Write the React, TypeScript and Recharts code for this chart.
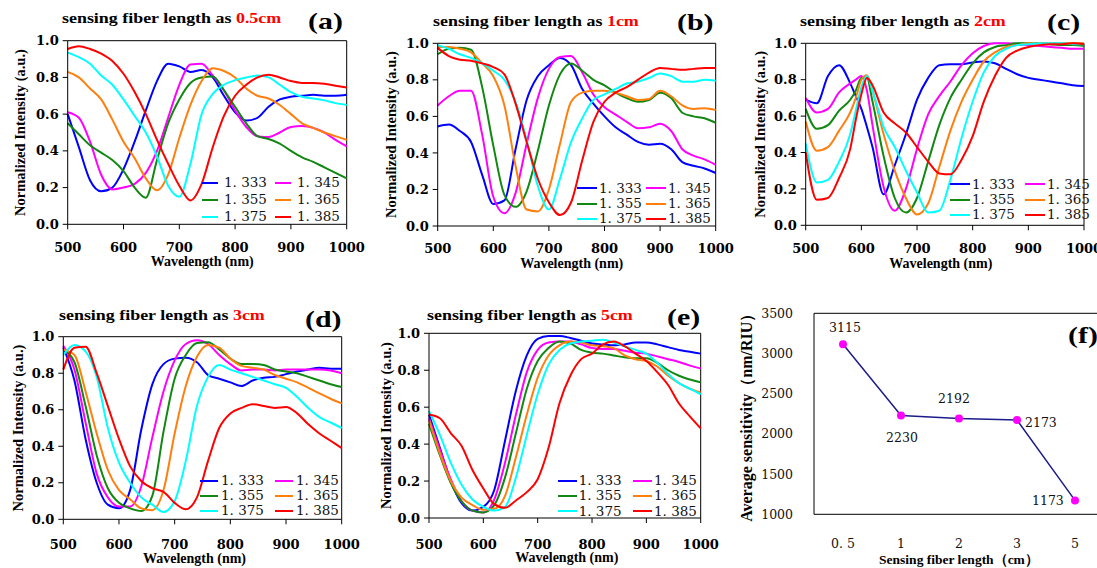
import { LineChart, Line, XAxis, YAxis, ReferenceLine, Legend, LabelList } from "recharts";

// wavelength grid (nm) shared by panels a, b, d, e
const WL = [500, 520, 540, 560, 580, 600, 620, 640, 660, 680, 700, 720, 740, 760, 780, 800, 820, 840, 860, 880, 900, 920, 940, 960, 980, 1000];
// panel c needs a finer step around the 600 nm peaks
const WL_C = [500, 520, 540, 560, 580, 590, 600, 610, 620, 640, 660, 680, 700, 720, 740, 760, 780, 800, 820, 840, 860, 880, 900, 920, 940, 960, 980, 1000];
const WL_TICKS = [500, 600, 700, 800, 900, 1000];
const INT_TICKS = [0, 0.2, 0.4, 0.6, 0.8, 1.0];
const RI_LABELS = ["1. 333", "1. 345", "1. 355", "1. 365", "1. 375", "1. 385"];
const COLORS = ["#0000ff", "#ff00ff", "#118811", "#ff7f0e", "#00ffff", "#ff0000"];

// (a) 0.5 cm
const A333 = [0.60, 0.42, 0.24, 0.18, 0.20, 0.30, 0.45, 0.62, 0.78, 0.875, 0.86, 0.83, 0.84, 0.80, 0.70, 0.61, 0.565, 0.58, 0.64, 0.68, 0.695, 0.70, 0.705, 0.70, 0.70, 0.705];
const A345 = [0.61, 0.58, 0.45, 0.27, 0.19, 0.20, 0.22, 0.28, 0.40, 0.58, 0.76, 0.87, 0.875, 0.81, 0.73, 0.62, 0.53, 0.48, 0.475, 0.50, 0.53, 0.535, 0.525, 0.50, 0.46, 0.425];
const A355 = [0.55, 0.49, 0.43, 0.39, 0.35, 0.29, 0.20, 0.145, 0.35, 0.55, 0.68, 0.77, 0.80, 0.805, 0.73, 0.64, 0.55, 0.48, 0.465, 0.44, 0.40, 0.365, 0.34, 0.31, 0.28, 0.25];
const A365 = [0.83, 0.80, 0.74, 0.68, 0.57, 0.45, 0.36, 0.25, 0.185, 0.27, 0.47, 0.65, 0.78, 0.85, 0.835, 0.80, 0.74, 0.70, 0.685, 0.65, 0.60, 0.55, 0.525, 0.50, 0.48, 0.46];
const A375 = [0.935, 0.91, 0.875, 0.81, 0.76, 0.68, 0.59, 0.50, 0.37, 0.21, 0.15, 0.33, 0.60, 0.71, 0.76, 0.785, 0.80, 0.81, 0.80, 0.76, 0.72, 0.695, 0.685, 0.675, 0.66, 0.65];
const A385 = [0.955, 0.97, 0.955, 0.93, 0.89, 0.82, 0.72, 0.60, 0.46, 0.33, 0.21, 0.13, 0.22, 0.42, 0.59, 0.70, 0.76, 0.80, 0.815, 0.80, 0.78, 0.77, 0.77, 0.765, 0.755, 0.745];

// (b) 1 cm
const B333 = [0.545, 0.555, 0.52, 0.46, 0.28, 0.12, 0.14, 0.42, 0.69, 0.82, 0.88, 0.92, 0.88, 0.75, 0.67, 0.60, 0.54, 0.50, 0.46, 0.445, 0.45, 0.42, 0.35, 0.33, 0.315, 0.29];
const B345 = [0.66, 0.71, 0.74, 0.74, 0.50, 0.16, 0.07, 0.18, 0.45, 0.70, 0.86, 0.925, 0.93, 0.84, 0.72, 0.65, 0.61, 0.57, 0.535, 0.54, 0.56, 0.52, 0.42, 0.385, 0.365, 0.335];
const B355 = [0.94, 0.97, 0.975, 0.965, 0.76, 0.44, 0.17, 0.105, 0.19, 0.41, 0.66, 0.83, 0.89, 0.85, 0.80, 0.77, 0.73, 0.70, 0.68, 0.69, 0.73, 0.70, 0.62, 0.60, 0.59, 0.565];
const B365 = [0.98, 0.98, 0.97, 0.95, 0.89, 0.82, 0.66, 0.33, 0.09, 0.08, 0.20, 0.45, 0.68, 0.73, 0.74, 0.74, 0.73, 0.71, 0.69, 0.695, 0.74, 0.71, 0.66, 0.64, 0.645, 0.635];
const B375 = [0.99, 0.97, 0.94, 0.92, 0.89, 0.85, 0.80, 0.68, 0.47, 0.22, 0.09, 0.26, 0.46, 0.59, 0.69, 0.72, 0.75, 0.78, 0.79, 0.81, 0.835, 0.82, 0.79, 0.79, 0.80, 0.795];
const B385 = [0.975, 0.93, 0.91, 0.905, 0.89, 0.87, 0.83, 0.67, 0.46, 0.26, 0.13, 0.06, 0.13, 0.36, 0.57, 0.68, 0.73, 0.76, 0.80, 0.84, 0.865, 0.86, 0.855, 0.86, 0.865, 0.865];

// (c) 2 cm  (on WL_C)
const C333 = [0.69, 0.67, 0.82, 0.88, 0.78, 0.71, 0.64, 0.54, 0.43, 0.17, 0.33, 0.50, 0.69, 0.81, 0.88, 0.885, 0.885, 0.895, 0.90, 0.89, 0.86, 0.83, 0.81, 0.80, 0.79, 0.78, 0.77, 0.765];
const C345 = [0.70, 0.62, 0.64, 0.73, 0.78, 0.80, 0.82, 0.74, 0.55, 0.21, 0.08, 0.20, 0.42, 0.61, 0.71, 0.79, 0.88, 0.945, 0.985, 1.0, 1.0, 0.995, 0.99, 0.985, 0.98, 0.975, 0.97, 0.97];
const C355 = [0.64, 0.53, 0.55, 0.63, 0.69, 0.74, 0.81, 0.81, 0.68, 0.38, 0.15, 0.07, 0.15, 0.35, 0.55, 0.70, 0.80, 0.89, 0.95, 0.98, 0.99, 1.0, 1.0, 1.0, 0.995, 0.99, 0.99, 0.985];
const C365 = [0.57, 0.41, 0.43, 0.52, 0.62, 0.70, 0.80, 0.825, 0.74, 0.50, 0.30, 0.15, 0.06, 0.12, 0.32, 0.52, 0.68, 0.80, 0.90, 0.95, 0.98, 0.99, 1.0, 1.0, 1.0, 1.0, 1.0, 1.0];
const C375 = [0.45, 0.235, 0.25, 0.35, 0.50, 0.63, 0.76, 0.82, 0.74, 0.54, 0.43, 0.30, 0.18, 0.07, 0.08, 0.25, 0.48, 0.68, 0.84, 0.93, 0.97, 0.99, 0.995, 1.0, 1.0, 1.0, 0.995, 0.995];
const C385 = [0.40, 0.14, 0.15, 0.26, 0.42, 0.58, 0.72, 0.81, 0.77, 0.62, 0.56, 0.51, 0.43, 0.35, 0.285, 0.28, 0.36, 0.49, 0.68, 0.82, 0.92, 0.96, 0.98, 0.99, 0.995, 0.995, 1.0, 0.995];

// (d) 3 cm
const D333 = [0.94, 0.76, 0.44, 0.20, 0.08, 0.06, 0.16, 0.49, 0.74, 0.85, 0.88, 0.885, 0.86, 0.79, 0.77, 0.75, 0.73, 0.76, 0.775, 0.78, 0.795, 0.81, 0.82, 0.83, 0.825, 0.825];
const D345 = [0.95, 0.82, 0.53, 0.25, 0.12, 0.07, 0.07, 0.18, 0.45, 0.70, 0.87, 0.96, 0.98, 0.96, 0.90, 0.85, 0.815, 0.82, 0.82, 0.815, 0.82, 0.82, 0.82, 0.82, 0.815, 0.80];
const D355 = [0.93, 0.86, 0.62, 0.35, 0.17, 0.09, 0.06, 0.045, 0.13, 0.48, 0.77, 0.90, 0.965, 0.97, 0.93, 0.88, 0.85, 0.85, 0.845, 0.82, 0.81, 0.80, 0.78, 0.76, 0.74, 0.725];
const D365 = [0.93, 0.90, 0.70, 0.47, 0.27, 0.16, 0.11, 0.06, 0.05, 0.16, 0.47, 0.73, 0.89, 0.955, 0.94, 0.88, 0.84, 0.83, 0.82, 0.79, 0.77, 0.75, 0.72, 0.69, 0.66, 0.635];
const D375 = [0.90, 0.955, 0.92, 0.78, 0.50, 0.31, 0.20, 0.12, 0.08, 0.04, 0.10, 0.32, 0.62, 0.78, 0.845, 0.82, 0.80, 0.78, 0.76, 0.74, 0.72, 0.67, 0.61, 0.56, 0.53, 0.50];
const D385 = [0.82, 0.94, 0.945, 0.80, 0.62, 0.44, 0.29, 0.21, 0.17, 0.15, 0.09, 0.055, 0.12, 0.32, 0.50, 0.58, 0.61, 0.63, 0.62, 0.61, 0.615, 0.58, 0.52, 0.47, 0.43, 0.39];

// (e) 5 cm
const E333 = [0.56, 0.38, 0.20, 0.08, 0.04, 0.06, 0.15, 0.42, 0.69, 0.88, 0.97, 0.985, 0.985, 0.975, 0.96, 0.945, 0.94, 0.935, 0.94, 0.95, 0.95, 0.94, 0.925, 0.91, 0.90, 0.89];
const E345 = [0.54, 0.37, 0.21, 0.09, 0.04, 0.03, 0.10, 0.30, 0.56, 0.79, 0.91, 0.95, 0.955, 0.955, 0.94, 0.92, 0.915, 0.915, 0.905, 0.895, 0.89, 0.875, 0.86, 0.845, 0.825, 0.81];
const E355 = [0.51, 0.34, 0.19, 0.09, 0.04, 0.03, 0.07, 0.22, 0.46, 0.70, 0.85, 0.92, 0.955, 0.945, 0.91, 0.895, 0.89, 0.88, 0.87, 0.865, 0.865, 0.84, 0.80, 0.77, 0.75, 0.735];
const E365 = [0.53, 0.35, 0.20, 0.11, 0.07, 0.045, 0.05, 0.12, 0.33, 0.56, 0.76, 0.88, 0.935, 0.955, 0.95, 0.935, 0.93, 0.92, 0.88, 0.86, 0.85, 0.82, 0.77, 0.73, 0.70, 0.68];
const E375 = [0.58, 0.45, 0.30, 0.18, 0.10, 0.06, 0.04, 0.06, 0.22, 0.45, 0.67, 0.83, 0.91, 0.945, 0.955, 0.96, 0.965, 0.95, 0.93, 0.91, 0.89, 0.84, 0.78, 0.73, 0.70, 0.67];
const E385 = [0.56, 0.54, 0.46, 0.39, 0.26, 0.16, 0.075, 0.055, 0.095, 0.14, 0.21, 0.38, 0.62, 0.77, 0.86, 0.89, 0.94, 0.955, 0.93, 0.89, 0.85, 0.79, 0.72, 0.62, 0.55, 0.485];

// (f) sensitivity vs length
const F_LENGTHS = ["0. 5", "1", "2", "3", "5"];
const F_SENS = [3115, 2230, 2192, 2173, 1173];
const F_TICKS = [1000, 1500, 2000, 2500, 3000, 3500];
const F_BOUNDS = [1, 2, 3, 4];

const SERIF_W = "'DejaVu Serif', serif";
const SERIF = "'Liberation Serif', 'Times New Roman', serif";

function buildRows(wls: number[], series: number[][]) {
  return wls.map((wl, i) => {
    const row: any = { wl };
    series.forEach((s, k) => (row["s" + k] = s[i]));
    return row;
  });
}

const PANELS = [
  {
    key: "a", wl: WL, series: [A333, A345, A355, A365, A375, A385], red: "0.5cm",
    rect: [0, 0, 372, 275], box: { x0: 67.7, x1: 346.7, y0: 40.7, y1: 224.3 },
    ylabX: 20, xlabOff: 3, xlabDx: -5, tickM: 13.2,
    legend: { x: 202, y: 182.7, colW: 73, rowH: 17, line: 16, gap: 6 },
    title: { x: 61.7, base: 23.5 }, tag: { x: 308, base: 29 },
  },
  {
    key: "b", wl: WL, series: [B333, B345, B355, B365, B375, B385], red: "1cm",
    rect: [370, 0, 372, 275], box: { x0: 437.7, x1: 715.7, y0: 43.3, y1: 226 },
    ylabX: 390.7, xlabOff: 3, xlabDx: -5, tickM: 12.8,
    legend: { x: 577, y: 188.3, colW: 69, rowH: 15.3, line: 20, gap: 2 },
    title: { x: 433.3, base: 26.5 }, tag: { x: 676.7, base: 30 },
  },
  {
    key: "c", wl: WL_C, series: [C333, C345, C355, C365, C375, C385], red: "2cm",
    rect: [740, 0, 370, 275], box: { x0: 805.7, x1: 1084, y0: 43.3, y1: 225.3 },
    ylabX: 759.5, xlabOff: 2.5, xlabDx: -4, tickM: 13.5,
    legend: { x: 950, y: 184.3, colW: 75, rowH: 15.3, line: 20, gap: 2 },
    title: { x: 800, base: 27 }, tag: { x: 1046.7, base: 30 },
  },
  {
    key: "d", wl: WL, series: [D333, D345, D355, D365, D375, D385], red: "3cm",
    rect: [0, 290, 368, 278], box: { x0: 63.3, x1: 341.7, y0: 336.7, y1: 519.3 },
    ylabX: 17.5, xlabOff: 1.5, xlabDx: -8, tickM: 15,
    legend: { x: 200, y: 480.7, colW: 75, rowH: 15.2, line: 18, gap: 3 },
    title: { x: 59.3, base: 320.7 }, tag: { x: 305, base: 327 },
  },
  {
    key: "e", wl: WL, series: [E333, E345, E355, E365, E375, E385], red: "5cm",
    rect: [370, 290, 358, 278], box: { x0: 429, x1: 700.7, y0: 333.3, y1: 518 },
    ylabX: 385.8, xlabOff: 1, xlabDx: 2, tickM: 16.3,
    legend: { x: 557.7, y: 480.7, colW: 75.3, rowH: 15.3, line: 19, gap: 2 },
    title: { x: 426.7, base: 320.7 }, tag: { x: 666.7, base: 325 },
  },
];

const X_AXIS_H = 45;

function makeLegend(cfg: any) {
  return (props: any) => {
    const items = props.payload || [];
    return (
      <div style={{ display: "grid", gridTemplateColumns: `${cfg.colW}px ${cfg.colW}px` }}>
        {items.map((p: any) => (
          <div key={p.value} style={{ display: "flex", alignItems: "center", height: cfg.rowH }}>
            <span style={{ display: "inline-block", width: cfg.line, height: 2, background: p.color, marginRight: cfg.gap }} />
            <span style={{ fontFamily: SERIF_W, fontSize: 13.5, color: "#111", lineHeight: 1, whiteSpace: "pre" }}>{p.value}</span>
          </div>
        ))}
      </div>
    );
  };
}

function SpectrumPanel({ p }: { p: any }) {
  const [L, T, W, H] = p.rect;
  const b = p.box;
  const margin = { top: b.y0 - T, right: L + W - b.x1, bottom: T + H - b.y1 - X_AXIS_H, left: 0 };
  const rows = buildRows(p.wl, p.series);
  return (
    <div style={{ position: "absolute", left: L, top: T }}>
      <LineChart width={W} height={H} data={rows} margin={margin}>
        <XAxis
          dataKey="wl" type="number" domain={[500, 1000]} ticks={WL_TICKS} height={X_AXIS_H}
          axisLine={{ stroke: "#000" }} tickLine={{ stroke: "#000" }} tickSize={5} tickMargin={p.tickM}
          tick={{ fill: "#000", fontSize: 13, fontFamily: SERIF_W, fontWeight: "bold" }}
          label={{ value: "Wavelength (nm)", position: "insideBottom", offset: p.xlabOff, dx: p.xlabDx, fill: "#000", fontSize: 14, fontFamily: SERIF, fontWeight: "bold" }}
        />
        <YAxis
          type="number" domain={[0, 1]} ticks={INT_TICKS} width={b.x0 - L}
          tickFormatter={(v: number) => v.toFixed(1)}
          axisLine={{ stroke: "#000" }} tickLine={{ stroke: "#000" }} tickSize={5} tickMargin={4}
          tick={{ fill: "#000", fontSize: 13, fontFamily: SERIF_W, fontWeight: "bold" }}
          label={{ value: "Normalized Intensity (a.u.)", angle: -90, position: "insideLeft", offset: p.ylabX - L, style: { textAnchor: "middle" }, fill: "#000", fontSize: 14.5, fontFamily: SERIF, fontWeight: "bold" }}
        />
        <ReferenceLine y={1} stroke="#000" />
        <ReferenceLine x={1000} stroke="#000" />
        {RI_LABELS.map((name, i) => (
          <Line key={name} type="monotone" dataKey={"s" + i} name={name} stroke={COLORS[i]} strokeWidth={2} dot={false} isAnimationActive={false} />
        ))}
        <Legend
          layout="horizontal" verticalAlign="middle" align="center"
          content={makeLegend(p.legend)}
          wrapperStyle={{ left: p.legend.x - L, top: p.legend.y - p.legend.rowH / 2 - T, width: p.legend.colW * 2 + 4 }}
        />
      </LineChart>
    </div>
  );
}

const F_LABEL_POS = [
  { dx: 2, dy: -12, anchor: "middle" },
  { dx: 1, dy: 27, anchor: "middle" },
  { dx: -5, dy: -15, anchor: "middle" },
  { dx: 8, dy: 7, anchor: "start" },
  { dx: -43, dy: 5, anchor: "start" },
];

function renderSensLabel(props: any) {
  const { x, y, value, index } = props;
  const pos = F_LABEL_POS[index] || F_LABEL_POS[0];
  return (
    <text x={x + pos.dx} y={y + pos.dy} textAnchor={pos.anchor} fontFamily={SERIF_W} fontSize={12.5} fill="#111">
      {value}
    </text>
  );
}

function SensitivityPanel() {
  const rows = F_LENGTHS.map((len, i) => ({ len, sens: F_SENS[i] }));
  const L = 730, T = 290, W = 380, H = 278;
  const plotTop = 313.3, plotBottom = 514.3, plotLeft = 814, plotRight = 1104;
  return (
    <div style={{ position: "absolute", left: L, top: T }}>
      <LineChart width={W} height={H} data={rows} margin={{ top: plotTop - T, right: L + W - plotRight, bottom: 0, left: 0 }}>
        {/* hidden numeric axis: only the small inward ticks between categories */}
        <XAxis
          xAxisId="bounds" type="number" domain={[0, 5]} ticks={F_BOUNDS} height={0}
          axisLine={false} tickLine={{ stroke: "#444" }} tickSize={-5} tick={() => <g />}
        />
        <XAxis
          dataKey="len" height={T + H - plotBottom}
          padding={{ left: 29, right: 29 }} interval={0}
          axisLine={{ stroke: "#000" }} tickLine={false} tickMargin={19}
          tick={{ fill: "#111", fontSize: 12.5, fontFamily: SERIF_W }}
          label={{ value: "Sensing fiber length（cm）", position: "insideBottom", offset: 4, fill: "#000", fontSize: 13.5, fontFamily: SERIF, fontWeight: "bold" }}
        />
        <YAxis
          type="number" domain={[1000, 3500]} ticks={F_TICKS} width={plotLeft - L}
          axisLine={{ stroke: "#000" }} tickLine={false} tickMargin={15}
          tick={{ fill: "#111", fontSize: 12.5, fontFamily: SERIF_W }}
          label={{ value: "Average sensitivity（nm/RIU）", angle: -90, position: "insideLeft", offset: 16, style: { textAnchor: "middle" }, fill: "#000", fontSize: 16, fontFamily: SERIF, fontWeight: "bold" }}
        />
        <ReferenceLine y={3500} stroke="#000" />
        <Line
          type="linear" dataKey="sens" stroke="#1c1c8a" strokeWidth={1.5} isAnimationActive={false}
          dot={{ r: 4, fill: "#ff00ff", stroke: "#ff00ff", strokeWidth: 0 }}
        >
          <LabelList dataKey="sens" content={renderSensLabel} />
        </Line>
      </LineChart>
    </div>
  );
}

function Title({ x, base, red }: { x: number; base: number; red: string }) {
  const fs = 14;
  return (
    <div style={{ position: "absolute", left: x, top: base - 0.84 * fs, fontFamily: SERIF, fontWeight: "bold", fontSize: fs, lineHeight: 1, whiteSpace: "nowrap", transform: "scaleX(1.28)", transformOrigin: "left top", color: "#000" }}>
      sensing fiber length as <span style={{ color: "#ff0000" }}>{red}</span>
    </div>
  );
}

function Tag({ x, base, text }: { x: number; base: number; text: string }) {
  const fs = 23;
  return (
    <div style={{ position: "absolute", left: x, top: base - 0.84 * fs, fontFamily: SERIF, fontWeight: "bold", fontSize: fs, lineHeight: 1, whiteSpace: "nowrap", transform: "scaleX(1.3)", transformOrigin: "left top", color: "#000" }}>
      {text}
    </div>
  );
}

export default function App() {
  return (
    <div style={{ position: "fixed", left: 0, top: 0, width: 1097, height: 568, overflow: "hidden", background: "#fff" }}>
      {PANELS.map((p) => (
        <SpectrumPanel key={p.key} p={p} />
      ))}
      <SensitivityPanel />
      {PANELS.map((p) => (
        <Title key={"t" + p.key} x={p.title.x} base={p.title.base} red={p.red} />
      ))}
      {PANELS.map((p) => (
        <Tag key={"g" + p.key} x={p.tag.x} base={p.tag.base} text={`(${p.key})`} />
      ))}
      <Tag x={1068} base={343} text="(f)" />
    </div>
  );
}
